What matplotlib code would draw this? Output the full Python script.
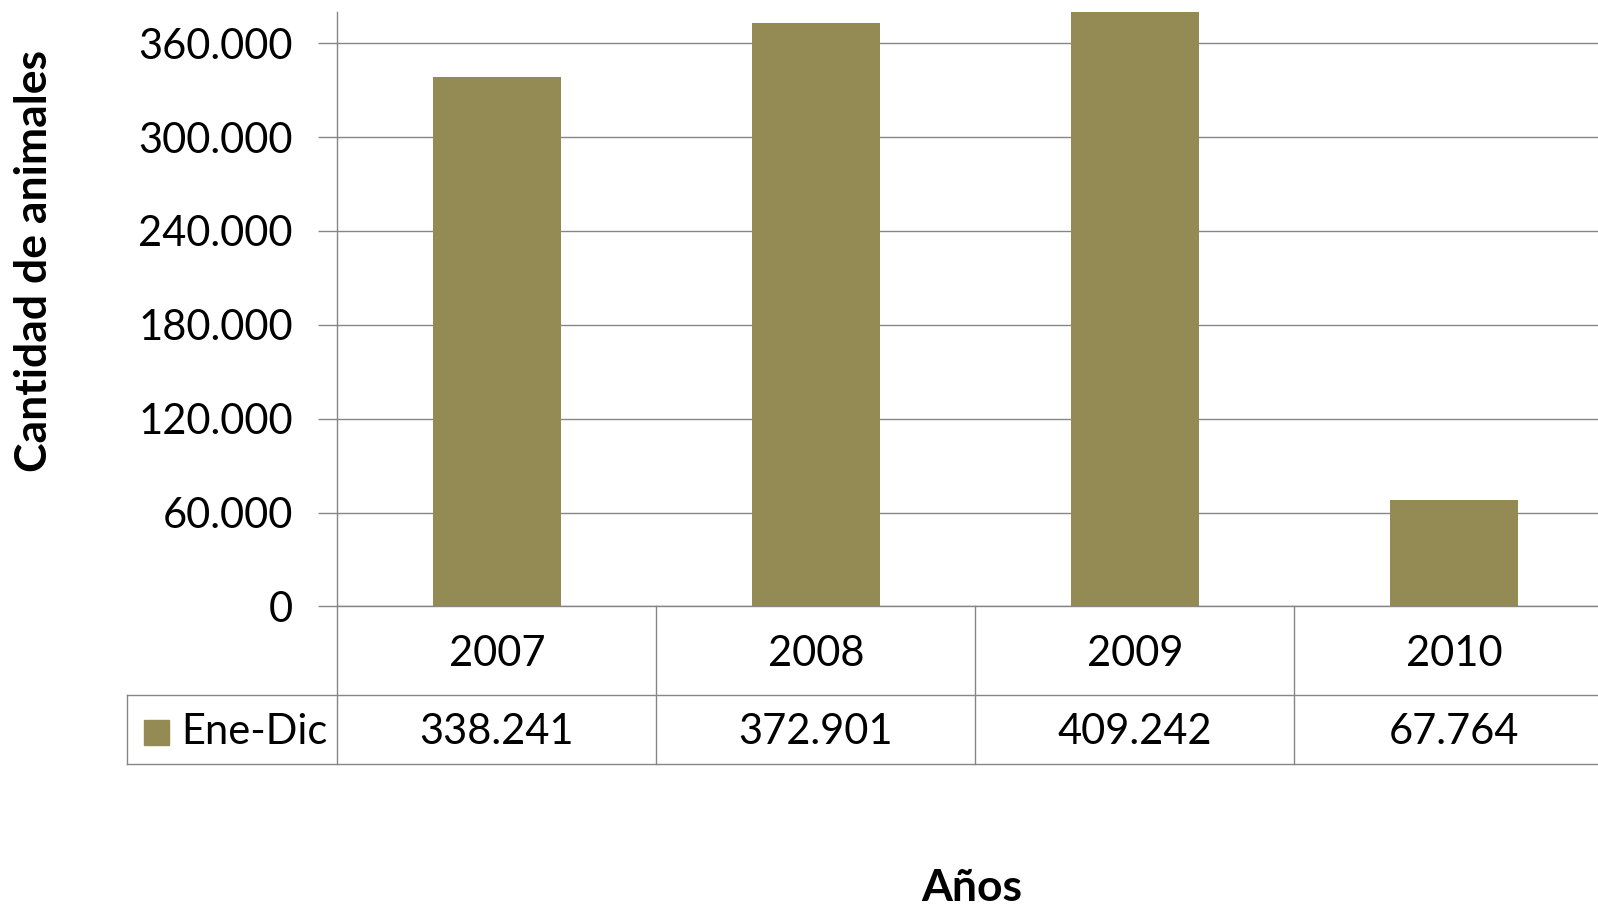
import numpy as np
import matplotlib
matplotlib.use("Agg")
import matplotlib.pyplot as plt

plt.rcParams['font.family'] = ['Lato', 'DejaVu Sans']

years = ['2007', '2008', '2009', '2010']
ene_dic = [338241, 372901, 409242, 67764]
series_name = 'Ene-Dic'
yticks = [0, 60000, 120000, 180000, 240000, 300000, 360000]

bar_color = '#948A54'
line_color = '#868686'

fig = plt.figure(figsize=(15.98, 9.11), dpi=100)
ax = fig.add_axes([0.2111, 0.3344, 0.7985, 0.6525])

x = np.arange(len(years))
ax.bar(x, ene_dic, width=0.4, color=bar_color, zorder=2)
ax.set_xlim(-0.5, len(years) - 0.5)
ax.set_ylim(0, 380000)

ax.set_yticks(yticks)
ax.set_yticklabels([f'{v:,}'.replace(',', '.') for v in yticks], fontsize=30)
ax.tick_params(axis='y', length=14, width=1.0, color=line_color, pad=18)
ax.tick_params(axis='x', length=0, labelbottom=False)
ax.grid(axis='y', color=line_color, lw=1.0, zorder=1)

for s in ['top', 'right', 'bottom']:
    ax.spines[s].set_visible(False)
ax.spines['left'].set_color(line_color)
ax.spines['left'].set_linewidth(1.0)

# data table under the axis
tr = ax.get_xaxis_transform()
r1, r2 = -0.149, -0.265
leg_left = -1.158
kw = dict(color=line_color, lw=1.0, transform=tr, clip_on=False)
ax.plot([-0.5, len(years) - 0.5], [0, 0], **kw)
ax.plot([leg_left, len(years) - 0.5], [r1, r1], **kw)
ax.plot([leg_left, len(years) - 0.5], [r2, r2], **kw)
ax.plot([leg_left, leg_left], [r1, r2], **kw)
for b in np.arange(len(years)) - 0.5:
    ax.plot([b, b], [0, r2], **kw)

row1_y = (0 + r1) / 2 - 0.005
row2_y = (r1 + r2) / 2 - 0.005
for i, (yr, v) in enumerate(zip(years, ene_dic)):
    ax.text(i, row1_y, yr, transform=tr, ha='center', va='center', fontsize=30)
    ax.text(i, row2_y, f'{v:,}'.replace(',', '.'), transform=tr,
            ha='center', va='center', fontsize=30)

ax.plot([-1.07], [row2_y], marker='s', ms=18, color=bar_color,
        transform=tr, clip_on=False, lw=0)
ax.text(-0.99, row2_y, series_name, transform=tr, ha='left',
        va='center', fontsize=30)

fig.text(0.0213, 0.714, 'Cantidad de animales', rotation=90, ha='center',
         va='center', fontsize=32, fontweight='bold')
fig.text(0.608, 0.025, 'Años', ha='center', va='center', fontsize=32,
         fontweight='bold')

fig.savefig('out.png', dpi=100)
